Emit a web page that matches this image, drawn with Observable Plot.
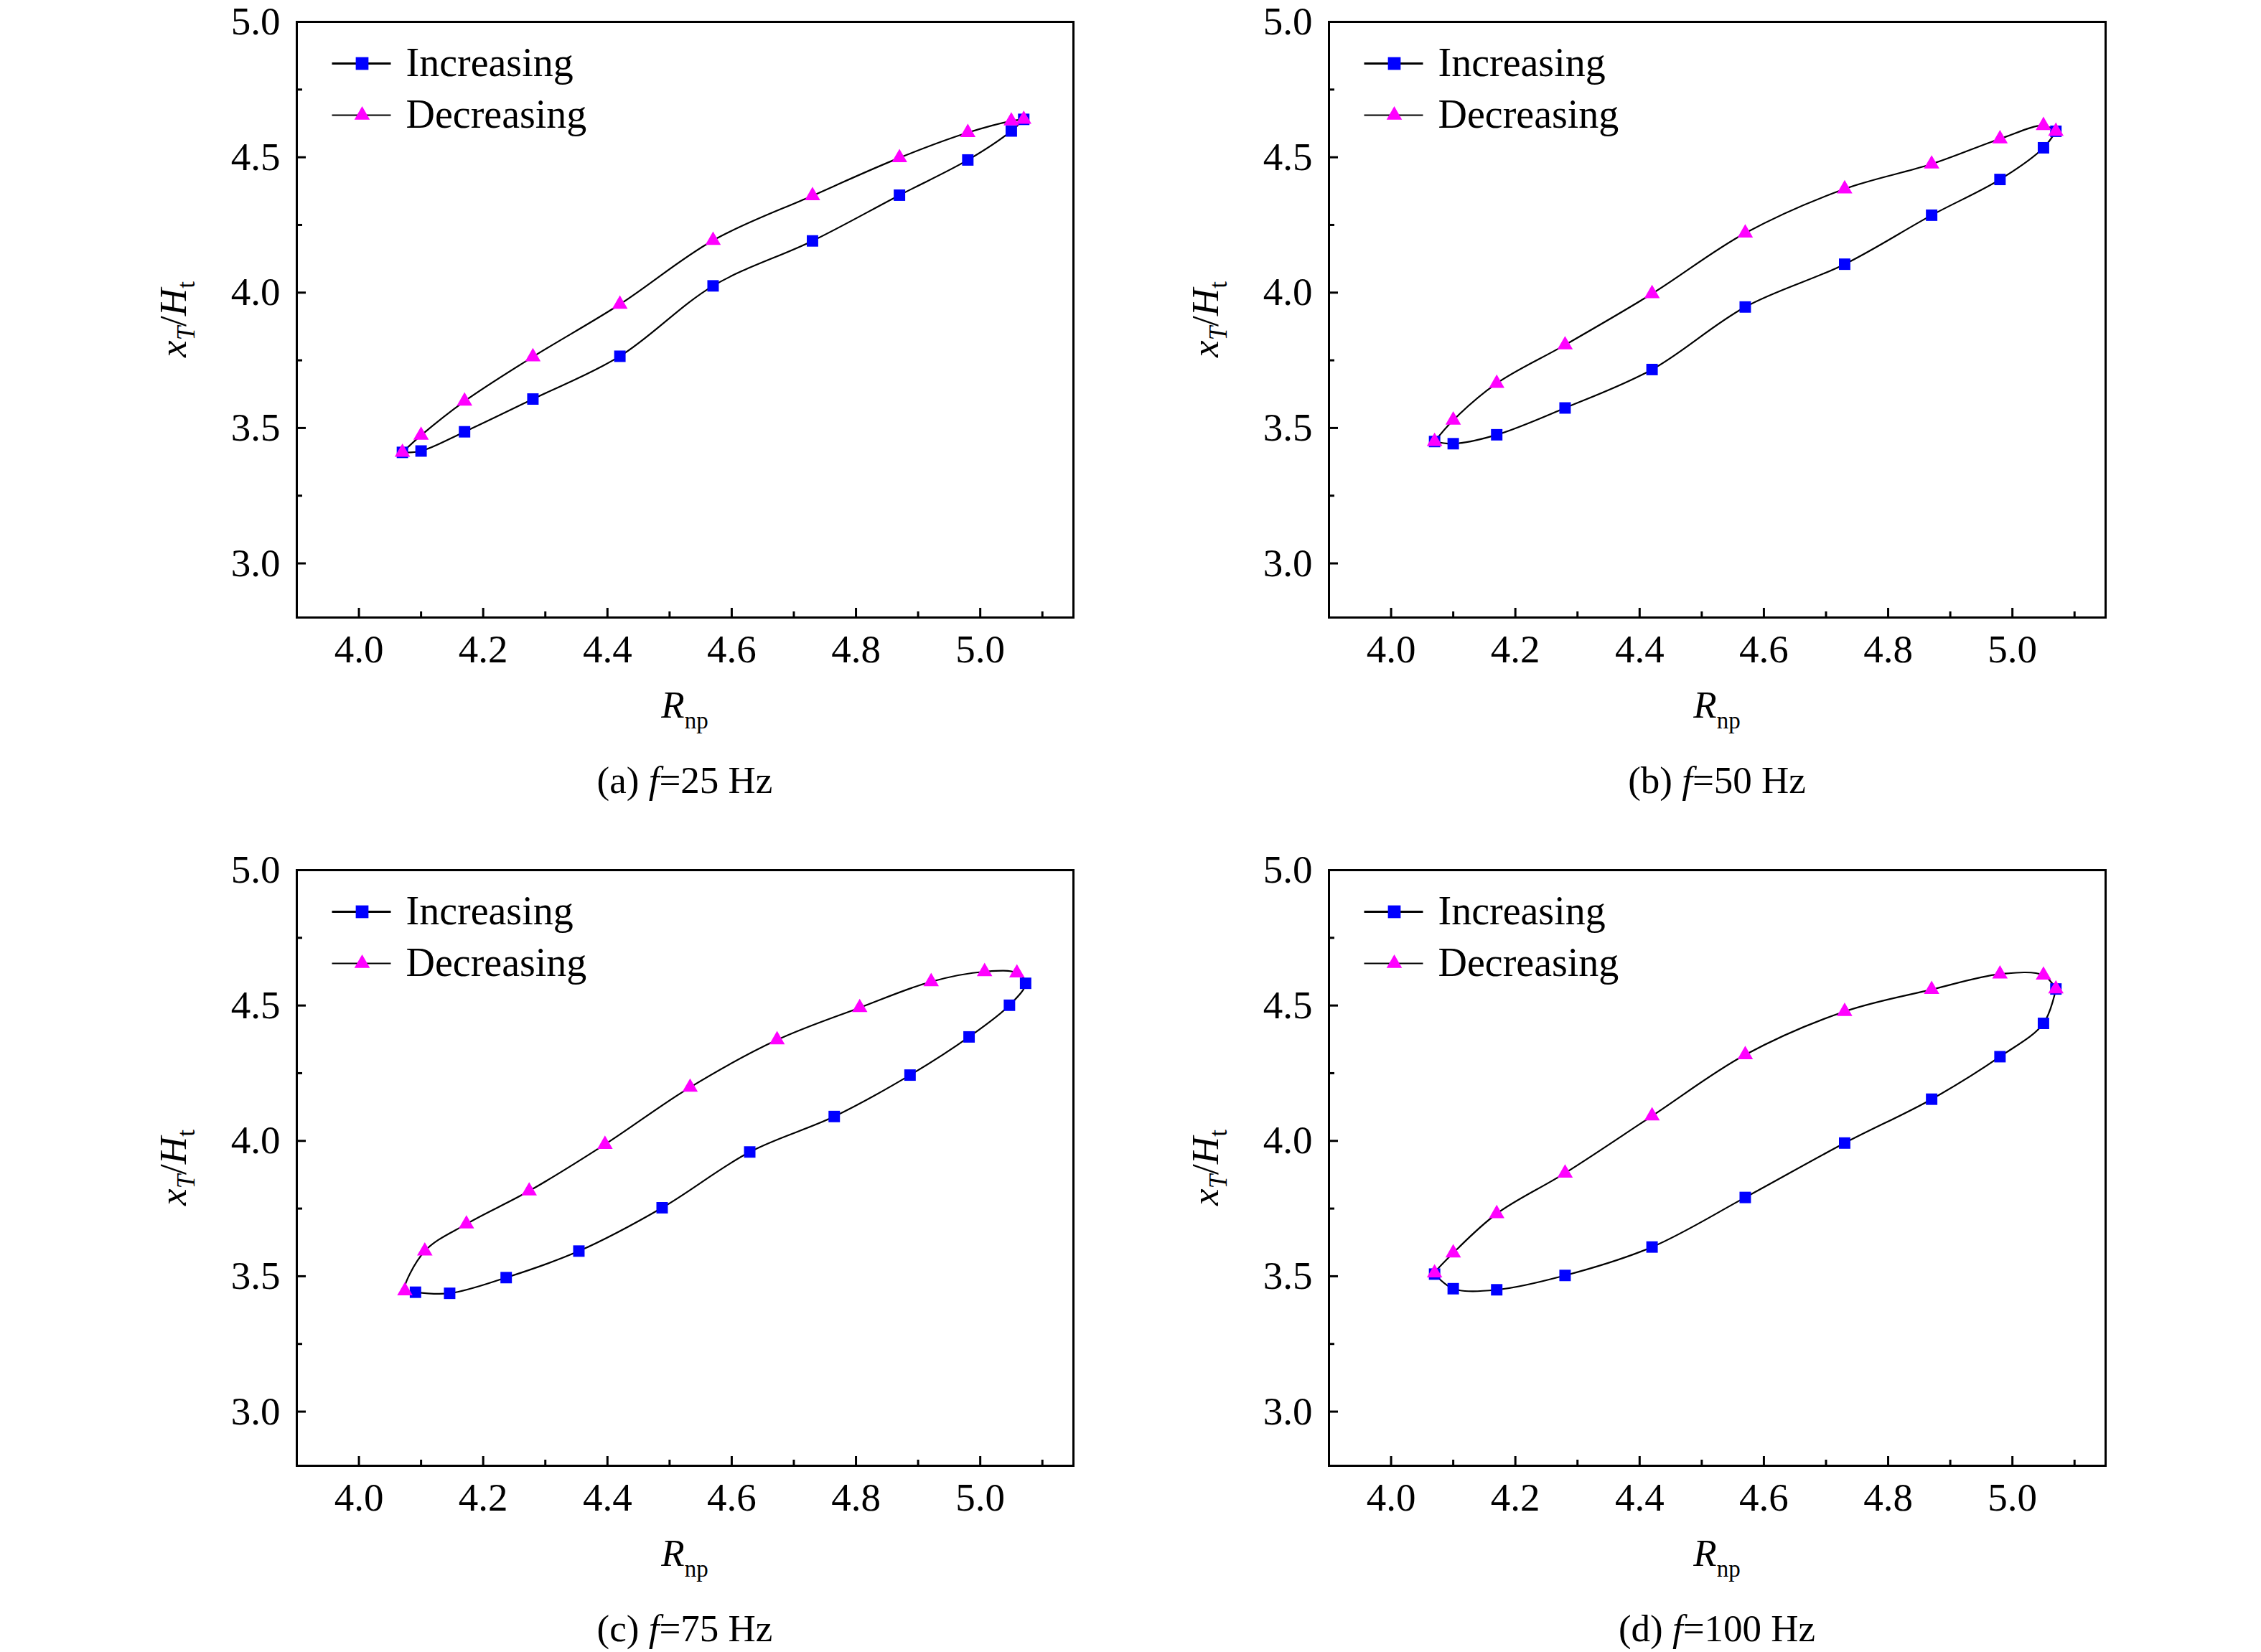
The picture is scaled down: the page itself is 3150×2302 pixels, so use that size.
<!DOCTYPE html>
<html><head><meta charset="utf-8">
<script src="https://cdn.jsdelivr.net/npm/d3@7"></script>
<script src="https://cdn.jsdelivr.net/npm/@observablehq/plot@0.6"></script>
<style>
html,body{margin:0;padding:0;background:#fff;overflow:hidden;}
#root{position:relative;width:3150px;height:2302px;background:#fff;overflow:hidden;}
.panel{position:absolute;}
.panel svg, .panel svg g, .panel svg text{font-family:"Liberation Serif","Times New Roman",serif !important;font-variant:normal !important;font-variant-numeric:normal !important;}
</style></head><body><div id="root"></div>
<script>
// ---- tick values ----
const xTicks = [4.0, 4.2, 4.4, 4.6, 4.8, 5.0];
const xMinor = [4.1, 4.3, 4.5, 4.7, 4.9, 5.1];
const yTicks = [3.0, 3.5, 4.0, 4.5, 5.0];
const yMinor = [3.25, 3.75, 4.25, 4.75];

// ---- R_np values ----
const rnp = [4.07, 4.10, 4.17, 4.28, 4.42, 4.57, 4.73, 4.87, 4.98, 5.05, 5.07];
const rnpIncC = [4.091, 4.146, 4.237, 4.354, 4.488, 4.629, 4.765, 4.887, 4.982, 5.047, 5.073];
const rnpDecC = [4.074, 4.106, 4.173, 4.274, 4.396, 4.533, 4.673, 4.806, 4.921, 5.007, 5.059];

// ---- x_T/H_t values (listed by increasing R_np) ----
const incA = [3.410, 3.415, 3.486, 3.607, 3.765, 4.025, 4.191, 4.360, 4.490, 4.597, 4.640];
const decA = [3.410, 3.473, 3.599, 3.763, 3.957, 4.193, 4.358, 4.498, 4.591, 4.634, 4.640];
const incB = [3.450, 3.442, 3.475, 3.574, 3.716, 3.947, 4.105, 4.286, 4.418, 4.535, 4.596];
const decB = [3.450, 3.529, 3.665, 3.807, 3.996, 4.220, 4.383, 4.475, 4.568, 4.617, 4.596];
const incC = [3.441, 3.437, 3.495, 3.593, 3.753, 3.959, 4.090, 4.243, 4.384, 4.501, 4.582];
const decC = [3.446, 3.593, 3.693, 3.815, 3.987, 4.198, 4.373, 4.492, 4.588, 4.625, 4.620];
const incD = [3.508, 3.454, 3.450, 3.503, 3.608, 3.791, 3.992, 4.154, 4.311, 4.434, 4.561];
const decD = [3.512, 3.586, 3.731, 3.881, 4.092, 4.318, 4.478, 4.559, 4.616, 4.612, 4.561];

const tags = ["(a)", "(b)", "(c)", "(d)"];
const freqs = ["25", "50", "75", "100"];
const seriesNames = ["Increasing", "Decreasing"];

const ML = 230, MR = 40, MT = 40, MB = 258, FW = 1082, FH = 830;
const W = FW + ML + MR, H = FH + MT + MB;

const panels = [
  {incR: rnp, inc: incA, decR: rnp, dec: decA, left: 183, top: -10},
  {incR: rnp, inc: incB, decR: rnp, dec: decB, left: 1621, top: -10},
  {incR: rnpIncC, inc: incC, decR: rnpDecC, dec: decC, left: 183, top: 1172},
  {incR: rnp, inc: incD, decR: rnp, dec: decD, left: 1621, top: 1172}
];

const FONT = '"Liberation Serif", "Times New Roman", serif';
const hline = (half) => ({draw(ctx) { ctx.moveTo(-half, 0); ctx.lineTo(half, 0); }});
const root = document.getElementById("root");

panels.forEach((p, k) => {
  const incRows = p.incR.map((r, i) => ({r, v: p.inc[i]}));
  const decRows = p.decR.map((r, i) => ({r, v: p.dec[i]}));
  const loop = [...incRows, ...decRows.slice().reverse(), incRows[0]];

  const svg = Plot.plot({
    width: W, height: H,
    marginLeft: ML, marginRight: MR, marginTop: MT, marginBottom: MB,
    x: {domain: [3.9, 5.15]},
    y: {domain: [2.8, 5.0]},
    style: {fontFamily: FONT, color: "#000", background: "#fff", overflow: "visible"},
    marks: [
      Plot.axisX(xTicks, {tickSize: -13, tickPadding: 36, strokeWidth: 3, fontSize: 55, fontFamily: FONT, fontVariant: "normal", tickFormat: d3.format(".1f"), label: null}),
      Plot.axisX(xMinor, {tickSize: -8, strokeWidth: 3, fill: "none", label: null}),
      Plot.axisY(yTicks, {tickSize: -13, tickPadding: 36, strokeWidth: 3, fontSize: 55, fontFamily: FONT, fontVariant: "normal", tickFormat: d3.format(".1f"), label: null}),
      Plot.axisY(yMinor, {tickSize: -8, strokeWidth: 3, fill: "none", label: null}),
      Plot.frame({stroke: "#000", strokeWidth: 3}),
      Plot.line(loop, {x: "r", y: "v", curve: "catmull-rom", stroke: "#000", strokeWidth: 2.2}),
      Plot.dot(incRows, {x: "r", y: "v", symbol: "square", r: 9, fill: "#0000ff"}),
      Plot.dot(decRows, {x: "r", y: "v", symbol: "triangle", r: 8, fill: "#ff00ff"}),
      // legend
      Plot.dot([seriesNames[0]], {frameAnchor: "top-left", dx: 90, dy: 58, symbol: hline(41), stroke: "#000", strokeWidth: 3, fill: "none"}),
      Plot.dot([seriesNames[0]], {frameAnchor: "top-left", dx: 91, dy: 58, symbol: "square", r: 10, fill: "#0000ff"}),
      Plot.text([seriesNames[0]], {frameAnchor: "top-left", dx: 152, dy: 58, lineAnchor: "middle", text: d => d, textAnchor: "start", fontSize: 56, fontFamily: FONT, fill: "#000"}),
      Plot.dot([seriesNames[1]], {frameAnchor: "top-left", dx: 90, dy: 130, symbol: hline(41), stroke: "#000", strokeWidth: 2, fill: "none"}),
      Plot.dot([seriesNames[1]], {frameAnchor: "top-left", dx: 91, dy: 130, symbol: "triangle", r: 8, fill: "#ff00ff"}),
      Plot.text([seriesNames[1]], {frameAnchor: "top-left", dx: 152, dy: 130, lineAnchor: "middle", text: d => d, textAnchor: "start", fontSize: 56, fontFamily: FONT, fill: "#000"})
    ]
  });

  const s = d3.select(svg);
  const cx = ML + FW / 2;
  // y-axis label x_T/H_t
  const yl = s.append("text")
    .attr("transform", `translate(76,${MT + FH / 2}) rotate(-90)`)
    .attr("text-anchor", "middle")
    .attr("font-family", FONT).attr("font-size", 53).attr("fill", "#000");
  yl.append("tspan").attr("font-style", "italic").text("x");
  yl.append("tspan").attr("font-style", "italic").attr("font-size", 35).attr("dy", 12).text("T");
  yl.append("tspan").attr("dy", -12).text("/");
  yl.append("tspan").attr("font-style", "italic").text("H");
  yl.append("tspan").attr("font-size", 35).attr("dy", 12).text("t");

  // x-axis label R_np
  const xl = s.append("text")
    .attr("x", cx).attr("y", MT + FH + 140)
    .attr("text-anchor", "middle")
    .attr("font-family", FONT).attr("font-size", 53).attr("fill", "#000");
  xl.append("tspan").attr("font-style", "italic").text("R");
  xl.append("tspan").attr("font-size", 33).attr("dy", 15).text("np");

  // caption
  const cap = s.append("text")
    .attr("x", cx).attr("y", MT + FH + 245)
    .attr("text-anchor", "middle")
    .attr("font-family", FONT).attr("font-size", 53).attr("fill", "#000");
  cap.append("tspan").text(tags[k] + " ");
  cap.append("tspan").attr("font-style", "italic").text("f");
  cap.append("tspan").text("=" + freqs[k] + " Hz");

  const div = document.createElement("div");
  div.className = "panel";
  div.style.left = p.left + "px";
  div.style.top = p.top + "px";
  div.style.width = W + "px";
  div.style.height = H + "px";
  div.appendChild(svg);
  root.appendChild(div);
});
</script>
</body></html>
